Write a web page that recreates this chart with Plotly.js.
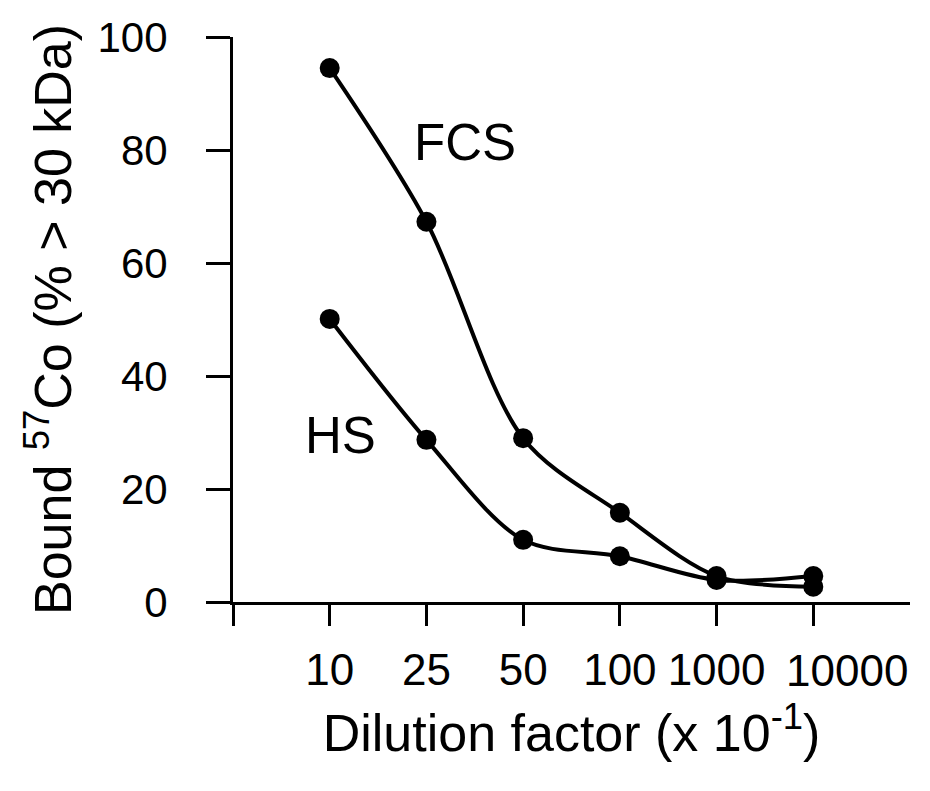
<!DOCTYPE html>
<html>
<head>
<meta charset="utf-8">
<script src="https://cdn.plot.ly/plotly-3.0.1.min.js"></script>
<style>html,body{margin:0;padding:0;background:#fff;}#chart{width:930px;height:791px;}</style>
</head>
<body>
<div id="chart"></div>
<script>
// Data
const categories = ['10', '25', '50', '100', '1000', '10000'];
const fcsValues = [94.5, 67.3, 29.0, 15.8, 4.6, 2.7];
const hsValues  = [50.1, 28.7, 11.0, 8.1, 3.9, 4.6];
const yTickVals = [0, 20, 40, 60, 80, 100];

const xIdx = categories.map((c, i) => i);
const lastI = categories.length - 1;
const font = 'Liberation Sans, Arial, Helvetica, sans-serif';

const common = {
  mode: 'lines+markers',
  line: {color: '#000', width: 4, shape: 'spline', smoothing: 0.9},
  marker: {color: '#000', size: 20},
  cliponaxis: false,
  showlegend: false,
  hoverinfo: 'skip'
};

const traces = [
  Object.assign({x: xIdx, y: fcsValues, name: 'FCS'}, common),
  // HS is drawn through the overlaying x axis, which shares the exact same range
  Object.assign({x: xIdx, y: hsValues, name: 'HS', xaxis: 'x2'}, common)
];

const layout = {
  width: 930, height: 791,
  margin: {l: 233, r: 20, t: 37, b: 189},
  paper_bgcolor: '#fff', plot_bgcolor: '#fff',
  font: {family: font, color: '#000', size: 44},
  xaxis: {
    type: 'linear', range: [-1, 6],
    tickvals: [-1].concat(xIdx),
    ticktext: [''].concat(categories.map((c, i) => i === lastI ? '' : c)),
    tickangle: 0,
    showline: true, linecolor: '#000', linewidth: 3,
    ticks: 'outside', ticklen: 21, tickwidth: 3, tickcolor: '#000',
    ticklabelstandoff: 6,
    showgrid: false, zeroline: false,
    tickfont: {size: 44, family: font},
    title: {text: 'Dilution factor (x 10<sup>-1</sup>)', font: {size: 52, family: font}, standoff: 22}
  },
  // second x axis only carries the last label, which sits right of its tick in the reference
  xaxis2: {
    type: 'linear', range: [-1, 6], matches: 'x', overlaying: 'x', anchor: 'y', side: 'bottom',
    tickvals: [xIdx[lastI]], ticktext: [categories[lastI]],
    tickangle: 0, ticks: 'outside', ticklen: 21, tickwidth: 0, tickcolor: 'rgba(0,0,0,0)',
    ticklabelstandoff: 9, ticklabelshift: 34,
    showline: false, showgrid: false, zeroline: false,
    tickfont: {size: 44, family: font}
  },
  yaxis: {
    range: [0, 100], tickvals: yTickVals,
    showline: true, linecolor: '#000', linewidth: 3,
    ticks: 'outside', ticklen: 24, tickwidth: 3, tickcolor: '#000',
    ticklabelstandoff: 30,
    showgrid: false, zeroline: false,
    tickfont: {size: 42, family: font},
    title: {text: 'Bound <sup>57</sup>Co (% &gt; 30 kDa)', font: {size: 52, family: font}, standoff: 10}
  },
  annotations: [
    {x: 1.40, y: 81.4, xref: 'x', yref: 'y', text: 'FCS', showarrow: false, font: {size: 51, family: font, color: '#000'}},
    {x: 0.11, y: 29.5, xref: 'x', yref: 'y', text: 'HS', showarrow: false, font: {size: 51, family: font, color: '#000'}}
  ]
};

Plotly.newPlot('chart', traces, layout, {displayModeBar: false, staticPlot: true});
</script>
</body>
</html>
